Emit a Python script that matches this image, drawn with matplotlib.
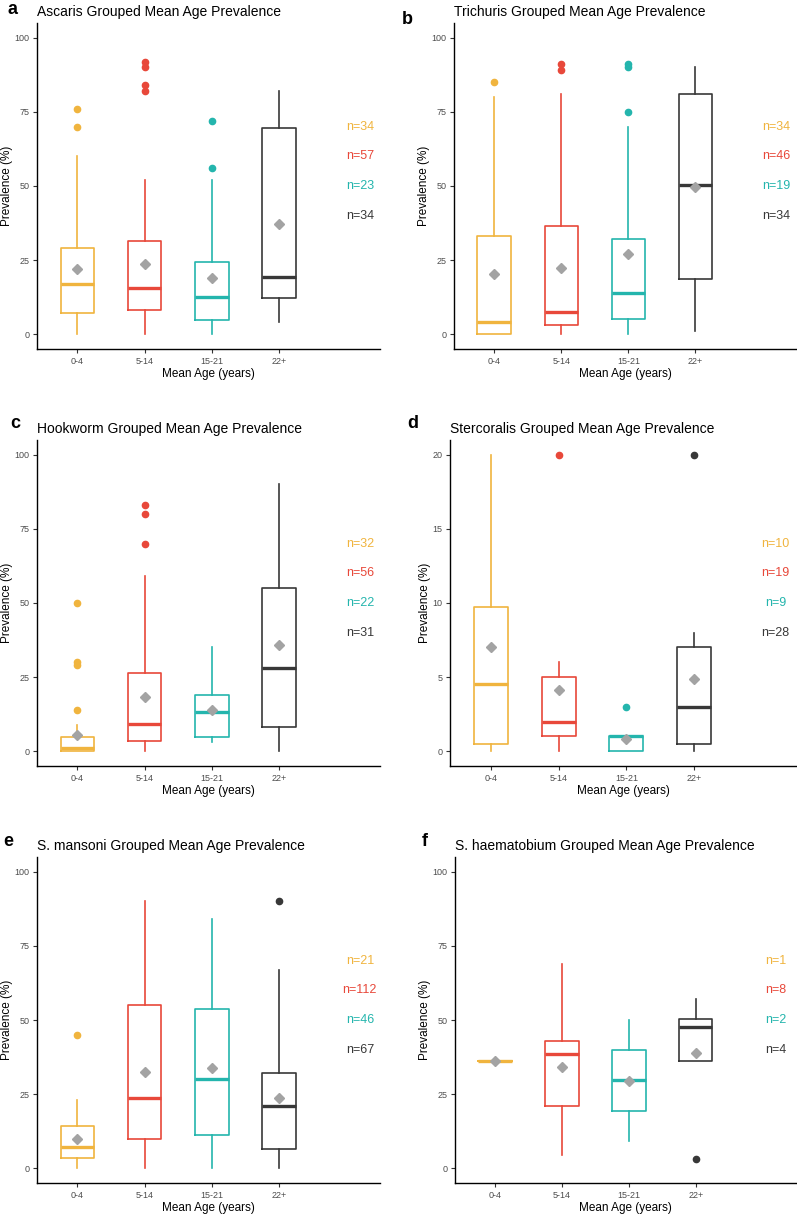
import matplotlib.pyplot as plt

plt.rcParams['font.family'] = ['Liberation Sans', 'DejaVu Sans']

# Grupos de edad y colores
grupos = ['0-4', '5-14', '15-21', '22+']
colores = ['#F0B43E', '#E8483A', '#24B5AD', '#383838']

# Cajas: [bigote inferior, Q1, mediana, Q3, bigote superior] por grupo
ascaris_cajas = [[0, 7.3, 17.1, 29.1, 60], [0, 8.2, 15.6, 31.4, 52], [0, 4.7, 12.7, 24.2, 52], [4.2, 12.1, 19.2, 69.6, 82]]
ascaris_medias = [22.0, 23.7, 19.0, 37.3]
ascaris_atipicos = [[76, 70], [92, 90, 84, 82], [72, 56], []]
ascaris_n = [34, 57, 23, 34]

trichuris_cajas = [[0, 0, 4.0, 33.0, 80], [0, 3.0, 7.6, 36.6, 81], [0, 5.1, 14.0, 32.0, 70], [1.1, 18.7, 50.2, 80.9, 90]]
trichuris_medias = [20.2, 22.3, 27.0, 49.8]
trichuris_atipicos = [[85], [91, 89], [91, 90, 75], []]
trichuris_n = [34, 46, 19, 34]

hookworm_cajas = [[0, 0, 1.0, 4.8, 8.9], [0, 3.5, 9.2, 26.5, 59], [3.1, 4.9, 13.1, 18.9, 35], [0, 8.0, 28.1, 54.9, 90]]
hookworm_medias = [5.5, 18.2, 13.8, 35.9]
hookworm_atipicos = [[50, 30, 29, 14], [83, 80, 70], [], []]
hookworm_n = [32, 56, 22, 31]

stercoralis_cajas = [[0, 0.5, 4.5, 9.75, 20], [0, 1.0, 2.0, 5.0, 6], [0, 0, 1.0, 1.0, 1.0], [0, 0.5, 3.0, 7.0, 8]]
stercoralis_medias = [7.0, 4.1, 0.83, 4.9]
stercoralis_atipicos = [[], [20], [3], [20]]
stercoralis_n = [10, 19, 9, 28]

mansoni_cajas = [[0, 3.4, 7.0, 14.1, 23], [0, 10.0, 23.6, 55.1, 90], [0, 11.1, 30.1, 53.8, 84], [0, 6.6, 21.0, 32.0, 67]]
mansoni_medias = [10.0, 32.5, 33.7, 23.7]
mansoni_atipicos = [[45], [], [], [90]]
mansoni_n = [21, 112, 46, 67]

haema_cajas = [[36, 36, 36, 36, 36], [4.3, 20.9, 38.5, 43.0, 69], [9.2, 19.3, 29.6, 39.9, 50], [36.2, 36.2, 47.6, 50.3, 57]]
haema_medias = [36.1, 34.3, 29.5, 38.7]
haema_atipicos = [[], [], [], [3]]
haema_n = [1, 8, 2, 4]

paneles = [
    ('a', 'Ascaris Grouped Mean Age Prevalence', ascaris_cajas, ascaris_medias, ascaris_atipicos, ascaris_n, 100),
    ('b', 'Trichuris Grouped Mean Age Prevalence', trichuris_cajas, trichuris_medias, trichuris_atipicos, trichuris_n, 100),
    ('c', 'Hookworm Grouped Mean Age Prevalence', hookworm_cajas, hookworm_medias, hookworm_atipicos, hookworm_n, 100),
    ('d', 'Stercoralis Grouped Mean Age Prevalence', stercoralis_cajas, stercoralis_medias, stercoralis_atipicos, stercoralis_n, 20),
    ('e', 'S. mansoni Grouped Mean Age Prevalence', mansoni_cajas, mansoni_medias, mansoni_atipicos, mansoni_n, 100),
    ('f', 'S. haematobium Grouped Mean Age Prevalence', haema_cajas, haema_medias, haema_atipicos, haema_n, 100),
]

# Posiciones de los ejes en pixeles (izq, arriba, der, abajo) y de la letra
W, H = 797, 1215
cajas_px = [(37, 23, 380, 349), (454, 23, 796, 349),
            (37, 440, 380, 766), (450, 440, 796, 766),
            (37, 857, 380, 1183), (455, 857, 796, 1183)]
letras_px = [(13, 9), (407, 20), (15, 424), (413, 424), (8, 842), (425, 841)]

fig = plt.figure(figsize=(W / 100, H / 100), dpi=100)

for (letra, titulo, cajas, medias, atipicos, ns, ymax), (x0, y0, x1, y1), (lx, ly) in zip(paneles, cajas_px, letras_px):
    ax = fig.add_axes([x0 / W, 1 - y1 / H, (x1 - x0) / W, (y1 - y0) / H])
    for i, (c, m, out, col) in enumerate(zip(cajas, medias, atipicos, colores)):
        st = {'whislo': c[0], 'q1': c[1], 'med': c[2], 'q3': c[3], 'whishi': c[4],
              'fliers': out, 'mean': m}
        ax.bxp([st], positions=[i + 1], widths=0.5, showcaps=False, showmeans=True,
               boxprops=dict(color=col, linewidth=1.2),
               whiskerprops=dict(color=col, linewidth=1.2),
               medianprops=dict(color=col, linewidth=2.4),
               flierprops=dict(marker='o', markerfacecolor=col, markeredgecolor=col, markersize=4.5),
               meanprops=dict(marker='D', markerfacecolor='#A3A3A3', markeredgecolor='#A3A3A3', markersize=5))
        ax.text(5.2, ymax * (0.7 - 0.1 * i), f'n={ns[i]}', color=col, fontsize=9,
                ha='center', va='center')
    ax.set_xlim(0.4, 5.5)
    ax.set_ylim(-ymax * 0.05, ymax * 1.05)
    ax.set_yticks([ymax * k / 4 for k in range(5)])
    ax.set_yticklabels([f'{ymax * k // 4}' for k in range(5)])
    ax.set_xticks(range(1, len(grupos) + 1))
    ax.set_xticklabels(grupos)
    ax.tick_params(labelsize=6.5, labelcolor='#4D4D4D', color='#333333', length=3, width=0.8, pad=2.5)
    for s in ['top', 'right']:
        ax.spines[s].set_visible(False)
    for s in ['left', 'bottom']:
        ax.spines[s].set_linewidth(1.0)
    ax.set_xlabel('Mean Age (years)', fontsize=8.5, labelpad=2)
    ax.set_ylabel('Prevalence (%)', fontsize=8.5, labelpad=1)
    ax.set_title(titulo, loc='left', fontsize=10, pad=5)
    fig.text(lx / W, 1 - ly / H, letra, fontsize=13, fontweight='bold', ha='center', va='center')

fig.savefig('out.png', dpi=100)
